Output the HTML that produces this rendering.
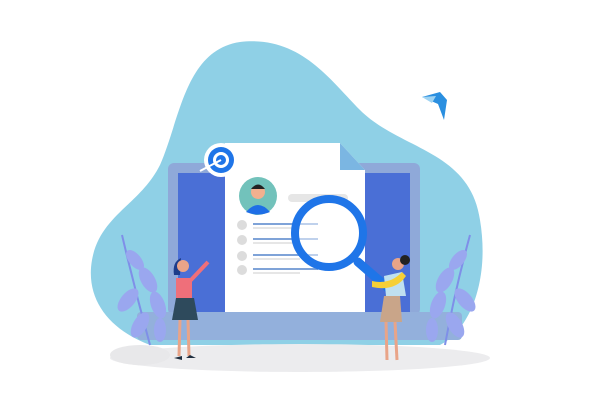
<!DOCTYPE html>
<html><head><style>html,body{margin:0;padding:0;background:#fff}svg{display:block}</style></head>
<body>
<svg width="598" height="418" viewBox="0 0 598 418" xmlns="http://www.w3.org/2000/svg">
<!-- blob -->
<path d="M240 42 C300 35 330 80 360 110 C400 150 470 150 480 220 C490 280 470 330 440 345 L150 345 C110 330 85 300 92 260 C100 215 140 205 160 165 C180 120 185 50 240 42 Z" fill="#8fd0e6"/>
<!-- ground -->
<ellipse cx="300" cy="358" rx="190" ry="14" fill="#ececee"/>
<ellipse cx="140" cy="355" rx="30" ry="10" fill="#e8e8ea"/>
<!-- laptop -->
<rect x="168" y="163" width="252" height="152" rx="6" fill="#8fa9d9"/>
<rect x="178" y="173" width="232" height="142" fill="#4a6fd6"/>
<rect x="137" y="312" width="325" height="28" rx="4" fill="#93b0dc"/>
<!-- document -->
<path d="M225 143 L340 143 L365 170 L365 312 L225 312 Z" fill="#fff"/>
<path d="M340 143 L365 170 L340 170 Z" fill="#7bb6e2"/>
<circle cx="258" cy="196" r="19" fill="#72c2bb"/>
<circle cx="258" cy="192" r="7" fill="#f2b08f"/>
<path d="M251 189 Q258 180 265 189 Z" fill="#222"/>
<path d="M246 212 Q258 198 270 212 Q258 217 246 212Z" fill="#1e6ee6"/>
<rect x="288" y="194" width="60" height="8" rx="4" fill="#e6e6e6"/>
<g fill="#dcdcdc"><circle cx="242" cy="225" r="5"/><circle cx="242" cy="240" r="5"/><circle cx="242" cy="256" r="5"/><circle cx="242" cy="270" r="5"/></g>
<g stroke="#7fa3d8" stroke-width="2"><line x1="253" y1="224" x2="318" y2="224"/><line x1="253" y1="239" x2="318" y2="239"/><line x1="253" y1="255" x2="318" y2="255"/><line x1="253" y1="269" x2="318" y2="269"/></g>
<g stroke="#e6e6e6" stroke-width="2"><line x1="253" y1="228" x2="300" y2="228"/><line x1="253" y1="243" x2="300" y2="243"/><line x1="253" y1="259" x2="300" y2="259"/><line x1="253" y1="273" x2="300" y2="273"/></g>
<!-- target -->
<circle cx="221" cy="160" r="17" fill="#fff"/>
<circle cx="221" cy="160" r="13" fill="#1f75e8"/>
<circle cx="221" cy="160" r="8" fill="#fff"/>
<circle cx="221" cy="160" r="5" fill="#1f75e8"/>
<line x1="200" y1="171" x2="221" y2="160" stroke="#fff" stroke-width="2"/>
<!-- magnifier -->
<line x1="358" y1="262" x2="388" y2="288" stroke="#1f75e8" stroke-width="9" stroke-linecap="round"/>
<circle cx="329" cy="233" r="34" fill="rgba(255,255,255,0.5)" stroke="#1f75e8" stroke-width="8"/>
<!-- bird -->
<path d="M422 97 L440 92 L447 100 L444 120 L438 104 Z" fill="#2a8fe0"/>
<path d="M422 97 L436 96 L432 103 Z" fill="#9fd3f2"/>
<!-- plants -->
<g fill="#9aa7ef"><path d="M150 345 Q135 290 122 235" stroke="#7f8fe8" stroke-width="2" fill="none"/>
<ellipse cx="135" cy="260" rx="6" ry="12" transform="rotate(-40 135 260)"/><ellipse cx="148" cy="280" rx="7" ry="14" transform="rotate(-30 148 280)"/><ellipse cx="128" cy="300" rx="7" ry="14" transform="rotate(40 128 300)"/><ellipse cx="158" cy="305" rx="7" ry="14" transform="rotate(-20 158 305)"/><ellipse cx="140" cy="325" rx="7" ry="14" transform="rotate(30 140 325)"/><ellipse cx="160" cy="330" rx="6" ry="12"/>
<path d="M445 345 Q455 290 470 235" stroke="#7f8fe8" stroke-width="2" fill="none"/>
<ellipse cx="458" cy="260" rx="6" ry="12" transform="rotate(40 458 260)"/><ellipse cx="445" cy="280" rx="7" ry="14" transform="rotate(30 445 280)"/><ellipse cx="465" cy="300" rx="7" ry="14" transform="rotate(-40 465 300)"/><ellipse cx="438" cy="305" rx="7" ry="14" transform="rotate(20 438 305)"/><ellipse cx="455" cy="325" rx="7" ry="14" transform="rotate(-30 455 325)"/><ellipse cx="432" cy="330" rx="6" ry="12"/></g>
<!-- woman left -->
<path d="M181 258 Q172 262 174 275 L180 275 Z" fill="#1d3c8a"/>
<circle cx="183" cy="266" r="6" fill="#e9a488"/>
<path d="M176 278 L192 278 L192 300 L176 300 Z" fill="#ef6f7a"/>
<line x1="190" y1="281" x2="208" y2="262" stroke="#ef6f7a" stroke-width="4"/>
<path d="M176 298 L194 298 L198 320 L172 320 Z" fill="#2e4a5c"/>
<line x1="180" y1="320" x2="179" y2="356" stroke="#e9a488" stroke-width="3"/>
<line x1="188" y1="320" x2="189" y2="356" stroke="#e9a488" stroke-width="3"/>
<path d="M174 358 L182 356 L182 360 Z M186 358 L196 358 L190 355 Z" fill="#213040"/>
<!-- woman right -->
<circle cx="398" cy="264" r="6" fill="#e9a488"/>
<circle cx="405" cy="260" r="5" fill="#222"/>
<path d="M384 276 L402 272 L406 296 L386 296 Z" fill="#bfe0f0"/>
<path d="M372 281 Q390 285 402 272 L406 276 Q395 292 372 287 Z" fill="#f5cf36"/>
<path d="M384 296 L400 296 L402 322 L380 322 Z" fill="#c9a589"/>
<line x1="386" y1="322" x2="387" y2="360" stroke="#e9a488" stroke-width="3"/>
<line x1="395" y1="322" x2="397" y2="360" stroke="#e9a488" stroke-width="3"/>
</svg>
</body></html>
